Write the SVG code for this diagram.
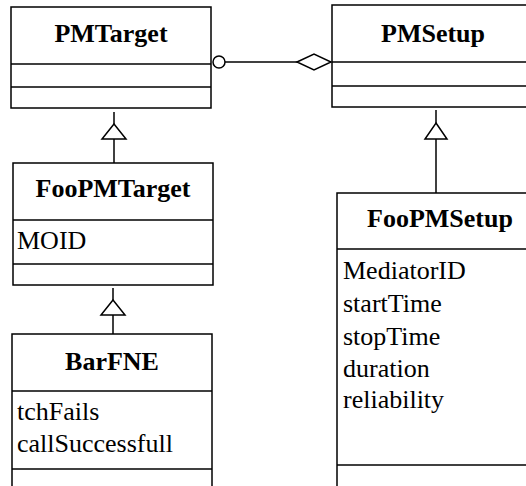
<svg xmlns="http://www.w3.org/2000/svg" width="526" height="486" viewBox="0 0 526 486">
  <style>
    text { font-family: 'Liberation Serif', Tinos, 'Times New Roman', Times, 'DejaVu Serif', serif; fill: #000000; }
    .box { fill: #ffffff; stroke: #000000; stroke-width: 1.5; }
    .sep { stroke: #000000; stroke-width: 1.5; fill: none; }
    .title { font-weight: bold; font-size: 26px; text-anchor: middle; }
    .attr { font-size: 26px; }
    .conn { stroke: #000000; stroke-width: 1.5; fill: none; }
    .head { stroke: #000000; stroke-width: 1.5; fill: #ffffff; }
  </style>
  <rect width="526" height="486" fill="#ffffff"/>

  <!-- connectors -->
  <g id="connectors">
    <!-- association PMTarget o——◇ PMSetup -->
    <line class="conn" x1="225" y1="62" x2="297" y2="62"/>
    <circle class="head" cx="219" cy="62" r="6"/>
    <polygon class="head" points="297,62 314,54 331,62 314,70"/>
    <!-- FooPMTarget inherits PMTarget -->
    <line class="conn" x1="114" y1="112" x2="114" y2="124"/>
    <polygon class="head" points="114,124 126,139 102,139"/>
    <line class="conn" x1="114" y1="139" x2="114" y2="163"/>
    <!-- FooPMSetup inherits PMSetup -->
    <line class="conn" x1="436" y1="110" x2="436" y2="123"/>
    <polygon class="head" points="436,123 447,139 425,139"/>
    <line class="conn" x1="436" y1="139" x2="436" y2="193"/>
    <!-- BarFNE inherits FooPMTarget -->
    <line class="conn" x1="113" y1="288" x2="113" y2="300"/>
    <polygon class="head" points="113,300 125,315 101,315"/>
    <line class="conn" x1="113" y1="315" x2="113" y2="334"/>
  </g>

  <!-- PMTarget -->
  <g id="PMTarget">
    <rect class="box" x="11" y="7" width="200" height="101"/>
    <line class="sep" x1="11" y1="64" x2="211" y2="64"/>
    <line class="sep" x1="11" y1="87" x2="211" y2="87"/>
    <text class="title" x="111" y="42">PMTarget</text>
  </g>

  <!-- PMSetup -->
  <g id="PMSetup">
    <rect class="box" x="332" y="5" width="204" height="102"/>
    <line class="sep" x1="332" y1="62" x2="536" y2="62"/>
    <line class="sep" x1="332" y1="86" x2="536" y2="86"/>
    <text class="title" x="433" y="42">PMSetup</text>
  </g>

  <!-- FooPMTarget -->
  <g id="FooPMTarget">
    <rect class="box" x="13" y="163" width="200" height="122"/>
    <line class="sep" x1="13" y1="220" x2="213" y2="220"/>
    <line class="sep" x1="13" y1="264" x2="213" y2="264"/>
    <text class="title" x="113" y="197">FooPMTarget</text>
    <text class="attr" x="17" y="249">MOID</text>
  </g>

  <!-- FooPMSetup -->
  <g id="FooPMSetup">
    <rect class="box" x="337" y="193" width="206" height="310"/>
    <line class="sep" x1="337" y1="249" x2="543" y2="249"/>
    <line class="sep" x1="337" y1="465" x2="543" y2="465"/>
    <text class="title" x="440" y="227">FooPMSetup</text>
    <text class="attr" x="343" y="279">MediatorID</text>
    <text class="attr" x="343" y="312">startTime</text>
    <text class="attr" x="343" y="345">stopTime</text>
    <text class="attr" x="343" y="377">duration</text>
    <text class="attr" x="343" y="408">reliability</text>
  </g>

  <!-- BarFNE -->
  <g id="BarFNE">
    <rect class="box" x="12" y="334" width="200" height="170"/>
    <line class="sep" x1="12" y1="391" x2="212" y2="391"/>
    <line class="sep" x1="12" y1="469" x2="212" y2="469"/>
    <text class="title" x="112" y="370">BarFNE</text>
    <text class="attr" x="17" y="420">tchFails</text>
    <text class="attr" x="17" y="452">callSuccessfull</text>
  </g>
</svg>
